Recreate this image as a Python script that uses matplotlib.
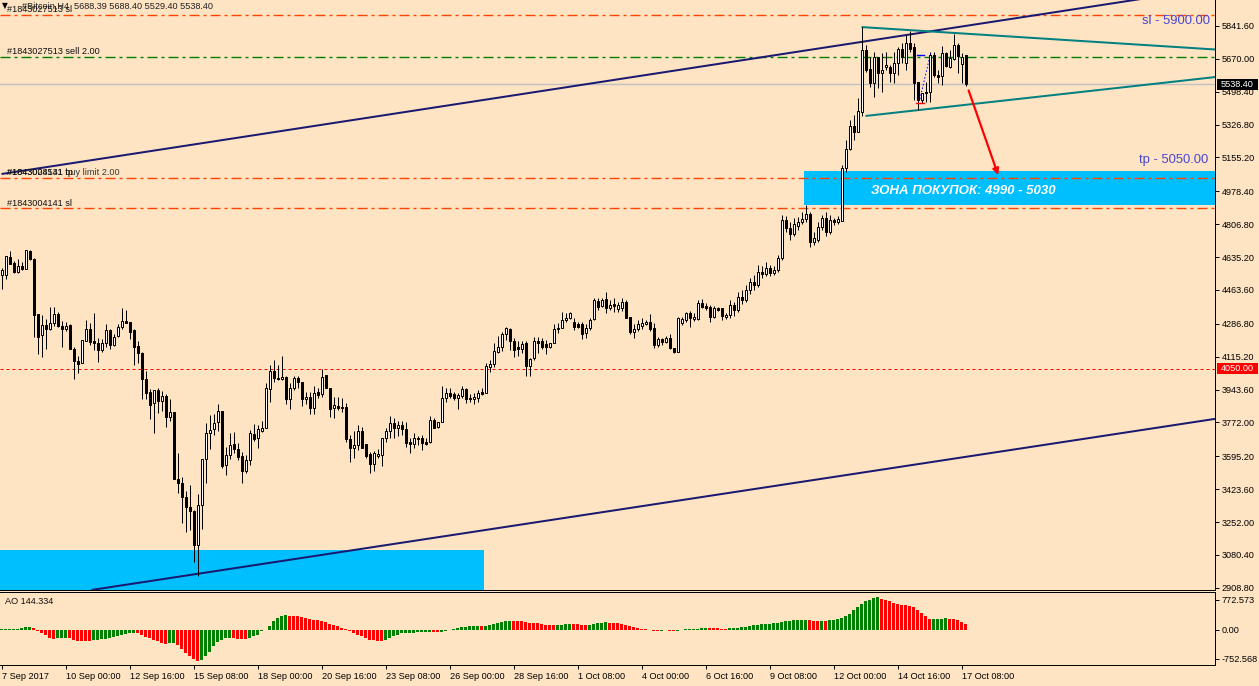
import matplotlib
matplotlib.use('Agg')
import matplotlib.pyplot as plt
from matplotlib.patches import Rectangle, FancyArrowPatch
import numpy as np

# ---------------- data ----------------
opens = [4542, 4542, 4636, 4604, 4557, 4589, 4573, 4667, 4625, 4338,
 4229, 4281, 4260, 4291, 4338, 4276, 4260, 4281, 4155, 4093,
 4082, 4197, 4260, 4197, 4187, 4150, 4187, 4255, 4176, 4223,
 4270, 4302, 4297, 4255, 4171, 4135, 3999, 3931, 3874, 3942,
 3884, 3910, 3801, 3827, 3477, 3456, 3383, 3331, 3310, 3132,
 3341, 3581, 3717, 3738, 3774, 3832, 3550, 3602, 3660, 3633,
 3597, 3519, 3576, 3712, 3691, 3727, 3743, 3947, 4041, 4004,
 3999, 4009, 3895, 3952, 4004, 3983, 3895, 3905, 3848, 3931,
 3921, 4020, 3952, 3848, 3858, 3853, 3853, 3686, 3639, 3654,
 3727, 3660, 3607, 3555, 3597, 3602, 3691, 3727, 3769, 3743,
 3759, 3738, 3670, 3660, 3691, 3691, 3670, 3670, 3785, 3748,
 3774, 3900, 3926, 3921, 3900, 3910, 3947, 3900, 3895, 3900,
 3931, 3926, 4062, 4077, 4140, 4166, 4234, 4260, 4197, 4166,
 4155, 4187, 4067, 4109, 4197, 4197, 4182, 4166, 4187, 4260,
 4265, 4307, 4317, 4297, 4286, 4286, 4239, 4265, 4312, 4406,
 4380, 4416, 4370, 4390, 4364, 4370, 4401, 4322, 4244, 4260,
 4276, 4286, 4297, 4265, 4176, 4208, 4192, 4213, 4161, 4140,
 4291, 4307, 4343, 4312, 4312, 4396, 4380, 4375, 4322, 4370,
 4370, 4322, 4333, 4385, 4359, 4427, 4411, 4463, 4505, 4489,
 4557, 4547, 4578, 4552, 4568, 4630, 4829, 4787, 4756, 4798,
 4818, 4834, 4860, 4714, 4724, 4792, 4839, 4766, 4829, 4818,
 4824, 5100, 5200, 5320, 5288, 5393, 5716, 5617, 5544, 5680,
 5596, 5628, 5628, 5596, 5648, 5721, 5648, 5753, 5732, 5549,
 5455, 5497, 5497, 5690, 5586, 5581, 5701, 5628, 5669, 5742,
 5643, 5688.39]

closes = [4568, 4641, 4599, 4557, 4589, 4573, 4672, 4625, 4333, 4218,
 4281, 4260, 4291, 4338, 4276, 4260, 4276, 4155, 4093, 4077,
 4203, 4260, 4192, 4187, 4150, 4187, 4255, 4176, 4218, 4270,
 4302, 4291, 4244, 4166, 4135, 3999, 3926, 3863, 3942, 3884,
 3910, 3801, 3827, 3477, 3456, 3383, 3331, 3310, 3132, 3341,
 3581, 3717, 3733, 3769, 3832, 3545, 3602, 3654, 3633, 3591,
 3519, 3576, 3717, 3686, 3738, 3743, 3952, 4041, 4004, 3999,
 4009, 3895, 3952, 4004, 3983, 3895, 3905, 3848, 3926, 3915,
 4009, 3952, 3842, 3863, 3848, 3848, 3686, 3639, 3654, 3727,
 3639, 3597, 3555, 3613, 3607, 3691, 3727, 3769, 3743, 3759,
 3738, 3665, 3660, 3691, 3686, 3665, 3660, 3785, 3743, 3774,
 3900, 3926, 3910, 3900, 3915, 3947, 3895, 3895, 3905, 3926,
 3921, 4067, 4077, 4145, 4166, 4234, 4265, 4197, 4150, 4155,
 4182, 4067, 4103, 4197, 4187, 4166, 4166, 4187, 4260, 4265,
 4307, 4317, 4343, 4270, 4270, 4234, 4265, 4307, 4411, 4375,
 4411, 4370, 4385, 4380, 4385, 4401, 4317, 4244, 4260, 4286,
 4291, 4297, 4260, 4176, 4208, 4192, 4213, 4161, 4140, 4317,
 4312, 4343, 4317, 4322, 4396, 4375, 4370, 4322, 4370, 4359,
 4328, 4333, 4385, 4359, 4427, 4411, 4463, 4505, 4489, 4557,
 4547, 4578, 4552, 4568, 4630, 4829, 4787, 4756, 4808, 4818,
 4834, 4860, 4714, 4735, 4792, 4839, 4766, 4829, 4818, 4834,
 5100, 5200, 5320, 5288, 5398, 5716, 5612, 5544, 5680, 5596,
 5612, 5638, 5596, 5648, 5721, 5680, 5753, 5721, 5544, 5455,
 5492, 5492, 5690, 5586, 5575, 5701, 5633, 5675, 5742, 5685,
 5680, 5538.40]

highs = [4578, 4641, 4667, 4615, 4625, 4610, 4672, 4672, 4630, 4338,
 4333, 4312, 4375, 4375, 4349, 4302, 4297, 4286, 4166, 4119,
 4203, 4307, 4291, 4343, 4213, 4208, 4286, 4260, 4234, 4286,
 4370, 4359, 4297, 4260, 4197, 4140, 4041, 3947, 3942, 3952,
 3936, 3921, 3894, 3827, 3613, 3488, 3414, 3446, 3315, 3399,
 3581, 3769, 3811, 3816, 3868, 3832, 3644, 3717, 3722, 3665,
 3618, 3602, 3733, 3764, 3759, 3780, 3978, 4072, 4098, 4072,
 4119, 4015, 3978, 4015, 4015, 3983, 3931, 3931, 3962, 3952,
 4051, 4020, 3952, 3905, 3905, 3900, 3874, 3707, 3727, 3759,
 3748, 3660, 3618, 3623, 3633, 3691, 3743, 3806, 3795, 3780,
 3780, 3774, 3691, 3717, 3701, 3706, 3691, 3806, 3795, 3774,
 3962, 3952, 3952, 3931, 3926, 3962, 3952, 3921, 3926, 3941,
 3952, 4082, 4098, 4187, 4223, 4244, 4270, 4265, 4213, 4197,
 4197, 4197, 4109, 4218, 4218, 4213, 4203, 4187, 4286, 4291,
 4349, 4343, 4349, 4317, 4297, 4297, 4286, 4317, 4422, 4422,
 4422, 4453, 4411, 4422, 4401, 4422, 4411, 4322, 4286, 4307,
 4317, 4307, 4338, 4291, 4218, 4213, 4223, 4234, 4161, 4322,
 4322, 4349, 4354, 4343, 4411, 4416, 4396, 4385, 4380, 4375,
 4370, 4343, 4411, 4401, 4453, 4463, 4489, 4526, 4542, 4594,
 4589, 4610, 4594, 4589, 4646, 4855, 4850, 4818, 4839, 4844,
 4870, 4907, 4870, 4766, 4818, 4855, 4870, 4855, 4839, 4850,
 5116, 5247, 5351, 5377, 5466, 5836, 5742, 5680, 5706, 5680,
 5701, 5706, 5638, 5706, 5732, 5753, 5795, 5815, 5753, 5549,
 5492, 5549, 5706, 5706, 5612, 5737, 5706, 5716, 5800, 5753,
 5701, 5688.40]

lows = [4469, 4521, 4599, 4552, 4552, 4568, 4573, 4620, 4218, 4129,
 4114, 4155, 4255, 4276, 4270, 4166, 4250, 4155, 3999, 4030,
 4082, 4197, 4176, 4150, 4088, 4140, 4166, 4155, 4171, 4218,
 4260, 4291, 4208, 4072, 4082, 3895, 3895, 3790, 3717, 3822,
 3832, 3748, 3780, 3477, 3404, 3247, 3200, 3211, 3044, 2971,
 3216, 3456, 3633, 3706, 3727, 3534, 3498, 3581, 3613, 3576,
 3456, 3508, 3550, 3675, 3639, 3722, 3743, 3879, 3983, 3994,
 3994, 3868, 3842, 3941, 3952, 3858, 3868, 3816, 3816, 3900,
 3905, 3952, 3801, 3795, 3837, 3827, 3670, 3566, 3587, 3628,
 3639, 3587, 3508, 3519, 3587, 3545, 3670, 3691, 3691, 3701,
 3706, 3644, 3613, 3639, 3654, 3628, 3654, 3665, 3743, 3743,
 3774, 3879, 3900, 3889, 3842, 3900, 3874, 3879, 3868, 3879,
 3915, 3926, 4036, 4062, 4135, 4145, 4202, 4150, 4114, 4119,
 4135, 4015, 4015, 4098, 4135, 4155, 4129, 4161, 4187, 4239,
 4265, 4297, 4312, 4255, 4265, 4208, 4213, 4255, 4307, 4359,
 4375, 4343, 4359, 4349, 4349, 4354, 4317, 4234, 4213, 4250,
 4260, 4281, 4250, 4161, 4166, 4176, 4187, 4155, 4135, 4140,
 4281, 4297, 4270, 4302, 4307, 4370, 4359, 4297, 4317, 4354,
 4307, 4312, 4317, 4328, 4349, 4390, 4401, 4443, 4463, 4479,
 4526, 4537, 4537, 4542, 4557, 4620, 4766, 4724, 4745, 4777,
 4808, 4818, 4688, 4698, 4714, 4777, 4745, 4756, 4803, 4808,
 4824, 5079, 5194, 5247, 5288, 5372, 5601, 5523, 5471, 5518,
 5497, 5612, 5549, 5544, 5586, 5648, 5612, 5706, 5455, 5403,
 5440, 5445, 5445, 5575, 5544, 5534, 5628, 5622, 5664, 5596,
 5544, 5529.40]

ao_values = [8, 10, 13, 16, 21, 39, 65, 83, 47, -26,
 -78, -143, -208, -247, -221, -216, -208, -221, -260, -281,
 -286, -291, -294, -273, -260, -247, -234, -221, -195, -169,
 -130, -104, -91, -78, -91, -130, -182, -221, -260, -299,
 -338, -364, -355, -350, -400, -500, -600, -690, -770, -820,
 -780, -690, -570, -430, -330, -260, -220, -210, -225, -235,
 -245, -250, -220, -170, -130, -43, 0, 87, 217, 303,
 364, 370, 364, 356, 347, 330, 304, 278, 260, 243,
 217, 191, 156, 121, 87, 43, 17, -43, -87, -130,
 -173, -217, -260, -277, -286, -290, -260, -217, -173, -130,
 -87, -85, -80, -76, -70, -65, -52, -47, -57, -68,
 -60, -39, -13, 13, 39, 60, 78, 91, 99, 104,
 99, 109, 130, 156, 182, 208, 229, 239, 234, 226,
 221, 203, 182, 177, 169, 156, 135, 117, 112, 117,
 130, 143, 151, 143, 138, 130, 125, 130, 151, 169,
 182, 190, 187, 177, 164, 151, 130, 99, 73, 47,
 26, 13, 0, -21, -31, -26, -16, -21, -34, -21,
 -5, 8, 13, 21, 31, 39, 44, 42, 39, 36,
 31, 29, 34, 39, 49, 62, 78, 96, 114, 130,
 143, 153, 161, 166, 177, 198, 216, 229, 242, 250,
 255, 260, 250, 239, 234, 239, 234, 242, 255, 273,
 304, 346, 416, 502, 590, 676, 754, 780, 824, 840,
 798, 780, 736, 694, 676, 632, 630, 624, 590, 520,
 434, 364, 278, 281, 283, 286, 294, 278, 273, 247,
 208, 144.334]

time_labels = ["7 Sep 2017", "10 Sep 00:00", "12 Sep 16:00", "15 Sep 08:00",
               "18 Sep 00:00", "20 Sep 16:00", "23 Sep 08:00", "26 Sep 00:00",
               "28 Sep 16:00", "1 Oct 08:00", "4 Oct 00:00", "6 Oct 16:00",
               "9 Oct 08:00", "12 Oct 00:00", "14 Oct 16:00", "17 Oct 08:00"]
bars_per_label = 16

price_ticks = [5841.60, 5670.00, 5498.40, 5326.80, 5155.20, 4978.40, 4806.80,
               4635.20, 4463.60, 4286.80, 4115.20, 3943.60, 3772.00, 3595.20,
               3423.60, 3252.00, 3080.40, 2908.80]
ao_ticks = [772.573, 0.0, -752.568]

# order / level lines
sl_price = 5900.0
sell_price = 5680.0
bid_price = 5538.40
tp_price = 5050.0
sl2_price = 4890.0
level_price = 4050.0

# drawn objects: (bar index, price) anchors
channel_upper = [(0, 5069), (304, 6044)]
channel_lower = [(22.5, 2897.6), (304, 3792.7)]
tri_upper = [(215, 5836), (303.4, 5719)]
tri_lower = [(216, 5372), (303.4, 5575)]
arrow_pts = [(241.55, 5519), (249.4, 5050)]
zone_buy = (200.6, 4905, 5085)      # left bar, bottom price, top price
zone_low = (120.6, 2850, 3106)      # right bar, bottom, top
trade_line = [(229.6, 5460), (232.3, 5701)]

# ---------------- figure ----------------
W, H, DPI = 1259, 686, 100
BG = '#FFE4C4'
fig = plt.figure(figsize=(W / DPI, H / DPI), dpi=DPI)
fig.patch.set_facecolor(BG)
FONT = ['Liberation Sans', 'DejaVu Sans']
plt.rcParams['font.family'] = FONT
PX = 0.72  # one pixel in points

def fxp(px):
    return px / W

def fyp(py):
    return 1 - py / H

X0, X1 = -0.375, 303.375
ax = fig.add_axes([0, fyp(590), fxp(1215), fyp(0) - fyp(590)])
ax.set_facecolor(BG)
ax.set_xlim(X0, X1)
ax.set_ylim(2897.5, 5977.3)

ao_ax = fig.add_axes([0, fyp(665), fxp(1215), fyp(592) - fyp(665)])
ao_ax.set_facecolor(BG)
ao_ax.set_xlim(X0, X1)
ao_ax.set_ylim(-916.2, 980.4)

for a in (ax, ao_ax):
    a.spines['left'].set_visible(False)
    for s in ('right', 'bottom', 'top'):
        a.spines[s].set_linewidth(PX)
        a.spines[s].set_color('black')
ax.spines['top'].set_visible(False)

# price axis
ax.yaxis.tick_right()
ax.set_yticks(price_ticks)
ax.set_yticklabels(['%.2f' % v for v in price_ticks])
ax.tick_params(axis='y', direction='out', length=3, width=PX, pad=2,
               labelsize=6.6, colors='black')
ax.set_xticks([])

ao_ax.yaxis.tick_right()
ao_ax.set_yticks(ao_ticks)
ao_ax.set_yticklabels(['772.573', '0.00', '-752.568'])
ao_ax.tick_params(axis='y', direction='out', length=3, width=PX, pad=2,
                  labelsize=6.6)
tick_pos = [i * bars_per_label for i in range(len(time_labels))]
ao_ax.set_xticks(tick_pos)
ao_ax.set_xticklabels(time_labels, ha='left')
ao_ax.tick_params(axis='x', direction='out', length=3, width=PX, pad=2,
                  labelsize=6.6)

# zones
ax.add_patch(Rectangle((zone_buy[0], zone_buy[1]), X1 - zone_buy[0] + 1,
                       zone_buy[2] - zone_buy[1], facecolor='#00BFFF',
                       edgecolor='none', zorder=1))
ax.add_patch(Rectangle((X0 - 1, zone_low[1]), zone_low[0] - X0 + 1,
                       zone_low[2] - zone_low[1], facecolor='#00BFFF',
                       edgecolor='none', zorder=1))

# horizontal order lines
LW = 1.0
DD = (10 * PX / LW, 4 * PX / LW, 3 * PX / LW, 4 * PX / LW)
ORANGE = '#FF4500'
for p, col in [(sl_price, ORANGE), (sell_price, '#008000'),
               (tp_price, ORANGE), (sl2_price, ORANGE)]:
    ax.axhline(p, color=col, lw=LW, dashes=DD, zorder=2)
ax.axhline(bid_price, color='#C0C0C0', lw=LW, zorder=2)
ax.axhline(level_price, color='#FF0000', lw=PX, dashes=(3, 3), zorder=2)

# channel lines
for pts in (channel_upper, channel_lower):
    ax.plot([pts[0][0], pts[1][0]], [pts[0][1], pts[1][1]], color='#191970',
            lw=2 * PX, zorder=3, solid_capstyle='butt')
for pts in (tri_upper, tri_lower):
    ax.plot([pts[0][0], pts[1][0]], [pts[0][1], pts[1][1]], color='#008080',
            lw=2 * PX, zorder=3, solid_capstyle='butt')

# candles
o = np.array(opens, float)
c = np.array(closes, float)
h = np.maximum.reduce([np.array(highs, float), o, c])
l = np.minimum.reduce([np.array(lows, float), o, c])
assert len(o) == len(c) == len(h) == len(l) == len(ao_values)
xb = np.arange(len(o))
up = c >= o
ax.vlines(xb, l, h, color='black', lw=PX, zorder=4)
bot = np.minimum(o, c)
hgt = np.maximum(np.abs(c - o), 1.0)
ax.bar(xb[up], hgt[up], bottom=bot[up], width=0.5, facecolor='white',
       edgecolor='black', linewidth=PX, zorder=5)
ax.bar(xb[~up], hgt[~up], bottom=bot[~up], width=0.5, facecolor='black',
       edgecolor='black', linewidth=PX, zorder=5)

# trade history marks
ax.plot([trade_line[0][0], trade_line[1][0]], [trade_line[0][1], trade_line[1][1]],
        color='#0000FF', lw=PX, dashes=(1.5, 2), zorder=6)
ax.plot([228.9, 230.6], [5690, 5690], color='#0000FF', lw=1.0, zorder=6)
ax.plot([228.7, 230.6], [5440, 5440], color='#FF0000', lw=1.0, zorder=6)

# arrow
arr = FancyArrowPatch(arrow_pts[0], arrow_pts[1], arrowstyle='-|>',
                      mutation_scale=9, color='#FF0000', lw=2.2 * PX, zorder=7)
ax.add_patch(arr)

# AO histogram
ao = np.array(ao_values, float)
cols = ['#008000' if (i == 0 or ao[i] > ao[i - 1]) else '#FF0000'
        for i in range(len(ao))]
ao_ax.bar(xb, ao, width=0.75, color=cols, linewidth=0, zorder=3)

# ---------------- texts ----------------
def ftext(px, py, s, **kw):
    kw.setdefault('fontsize', 6.6)
    kw.setdefault('va', 'center')
    kw.setdefault('ha', 'left')
    kw.setdefault('family', FONT)
    return fig.text(fxp(px), fyp(py), s, **kw)

ftext(2, 6, '\u25BC', fontsize=5.5, family=['DejaVu Sans'])
ftext(22, 6, '#Bitcoin,H4  5688.39 5688.40 5529.40 5538.40', color='#202020')
ftext(7, 9.5, '#1843027513 sl', color='#101010')
ftext(7, 51.5, '#1843027513 sell 2.00', color='#101010')
ftext(7, 172.5, '#1843028531 buy limit 2.00', color='#303838')
ftext(7, 172.5, '#1843004141 tp', color='#101010')
ftext(7, 203, '#1843004141 sl', color='#101010')
ftext(5, 601.5, 'AO 144.334', color='#101010')

ftext(1210, 21, 'sl - 5900.00', ha='right', fontsize=9.4, color='#4646D0')
ftext(1208, 160.5, 'tp - 5050.00', ha='right', fontsize=9.4, color='#4646D0')
ftext(871, 190.5, '\u0417\u041E\u041D\u0410 \u041F\u041E\u041A\u0423\u041F\u041E\u041A: 4990 - 5030',
      fontsize=9.5, color='white', fontweight='bold', fontstyle='italic')

# right-side price boxes
for (py0, py1, txt, bg) in [(78.5, 90, '5538.40', 'black'),
                            (362.5, 374, '4050.00', '#FF0000')]:
    fig.add_artist(Rectangle((fxp(1217), fyp(py1)), fxp(1258) - fxp(1217),
                             fyp(py0) - fyp(py1), transform=fig.transFigure,
                             facecolor=bg, edgecolor='none', zorder=10))
    ftext(1221, (py0 + py1) / 2, txt, color='white', zorder=11)

fig.savefig('out.png', dpi=DPI, facecolor=BG)
